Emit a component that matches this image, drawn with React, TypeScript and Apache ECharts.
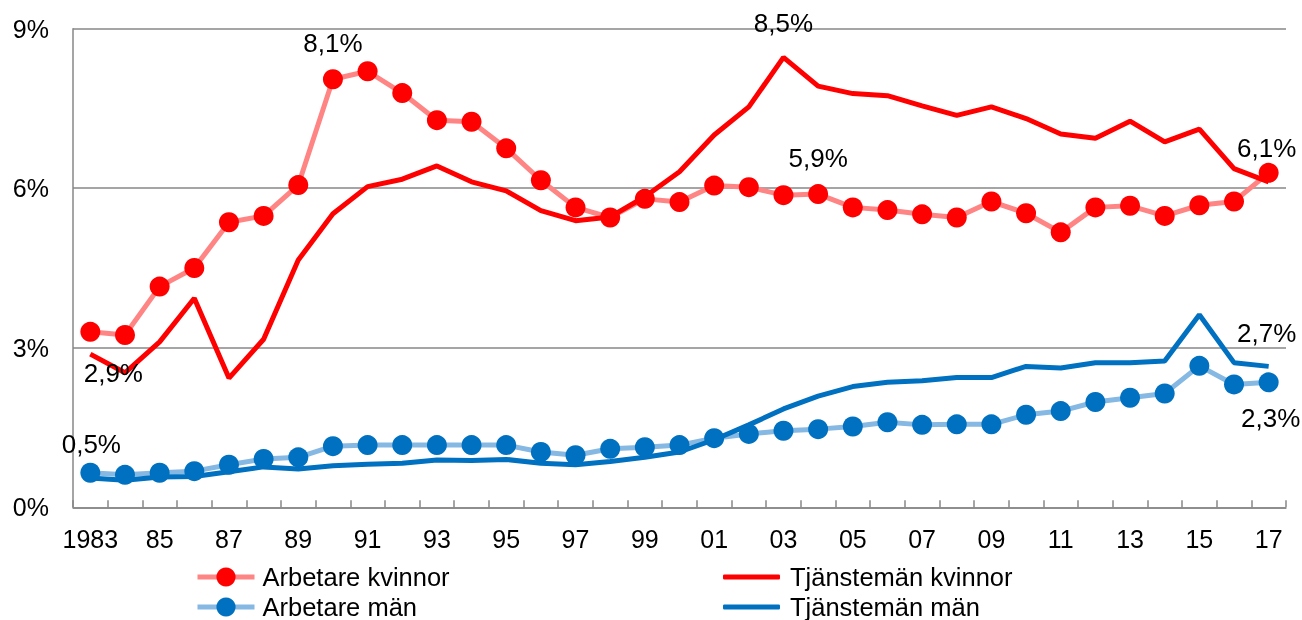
import React, { useEffect, useRef } from "react";
import * as echarts from "echarts";

const categories = ["1983","84","85","86","87","88","89","90","91","92","93","94","95","96","97","98","99","00","01","02","03","04","05","06","07","08","09","10","11","12","13","14","15","16","17"];

const arbetareKvinnor = [3.30,3.24,4.15,4.50,5.36,5.48,6.06,8.05,8.20,7.79,7.28,7.25,6.75,6.15,5.64,5.45,5.80,5.74,6.05,6.02,5.87,5.89,5.64,5.59,5.51,5.45,5.75,5.53,5.17,5.64,5.67,5.48,5.68,5.75,6.29];
const tjanstemanKvinnor = [2.88,2.53,3.11,3.93,2.43,3.16,4.65,5.52,6.03,6.17,6.42,6.12,5.95,5.58,5.39,5.46,5.84,6.31,7.00,7.53,8.46,7.92,7.78,7.74,7.55,7.37,7.53,7.31,7.02,6.94,7.26,6.87,7.11,6.37,6.12];
const arbetareMan = [0.65,0.61,0.65,0.68,0.80,0.91,0.94,1.15,1.17,1.17,1.17,1.17,1.17,1.04,0.98,1.10,1.13,1.17,1.30,1.38,1.44,1.47,1.52,1.60,1.55,1.56,1.56,1.74,1.81,1.98,2.06,2.14,2.66,2.31,2.35];
const tjanstemanMan = [0.55,0.51,0.57,0.58,0.67,0.76,0.72,0.78,0.81,0.83,0.89,0.88,0.90,0.83,0.80,0.86,0.94,1.04,1.27,1.55,1.85,2.09,2.27,2.35,2.38,2.44,2.44,2.65,2.62,2.72,2.72,2.75,3.62,2.72,2.65];

const seriesNames = ["Arbetare kvinnor", "Tjänstemän kvinnor", "Arbetare män", "Tjänstemän män"];
const yTickLabels = ["0%", "3%", "6%", "9%"];

// annotations: [seriesIndex, dataIndex, text, dx, dy]
const annotations: [number, number, string, number, number][] = [
  [0, 7, "8,1%", 0, -36],
  [1, 20, "8,5%", 0, -34],
  [0, 21, "5,9%", 0, -36],
  [1, 34, "6,1%", -2, -34],
  [1, 0, "2,9%", 23, 19],
  [3, 0, "0,5%", 1, -34],
  [3, 34, "2,7%", -2, -33],
  [2, 34, "2,3%", 2, 36],
];

const FONT = "'Liberation Sans', Arial, sans-serif";

function buildData(values: number[], seriesIndex: number) {
  return values.map((v, i) => {
    const a = annotations.find((x) => x[0] === seriesIndex && x[1] === i);
    if (!a) return v;
    return {
      value: v,
      label: {
        show: true,
        position: "inside",
        formatter: a[2],
        offset: [a[3], a[4]],
        color: "#000",
        fontSize: 26,
        fontFamily: FONT,
      },
    };
  });
}

export default function App() {
  const ref = useRef<HTMLDivElement>(null);
  useEffect(() => {
    if (!ref.current) return;
    const chart = echarts.init(ref.current, null, { renderer: "svg" });
    const gray = "#878787";
    chart.setOption({
      animation: false,
      grid: { left: 73, right: 16, top: 28.7, bottom: 112.7, containLabel: false },
      legend: [
        {
          data: [seriesNames[0], seriesNames[2]],
          orient: "vertical",
          left: 195,
          top: 564,
          padding: 0,
          itemWidth: 57,
          itemHeight: 24,
          itemGap: 4,
          lineStyle: { width: 5 },
          textStyle: { fontSize: 25.5, lineHeight: 25, color: "#000", fontFamily: FONT, padding: [0, 0, 0, 3] },
        },
        {
          data: [
            { name: seriesNames[1], icon: "roundRect" },
            { name: seriesNames[3], icon: "roundRect" },
          ],
          orient: "vertical",
          left: 723,
          top: 564,
          padding: 0,
          itemWidth: 57,
          itemHeight: 5,
          itemGap: 4,
          textStyle: { fontSize: 25.5, lineHeight: 25, color: "#000", fontFamily: FONT, padding: [0, 0, 0, 5] },
        },
      ],
      xAxis: {
        type: "category",
        data: categories,
        boundaryGap: true,
        axisLine: { show: true, lineStyle: { color: gray, width: 1.5 } },
        axisTick: { show: true, inside: true, length: 7, interval: 0, lineStyle: { color: gray, width: 1.5 } },
        axisLabel: { interval: 1, fontSize: 25, color: "#000", fontFamily: FONT, margin: 19 },
        splitLine: { show: false },
      },
      yAxis: {
        type: "value",
        min: 0,
        max: 9,
        interval: 3,
        axisLine: { show: true, lineStyle: { color: gray, width: 1.5 } },
        axisTick: { show: false },
        axisLabel: {
          fontSize: 25,
          color: "#000",
          fontFamily: FONT,
          margin: 24,
          formatter: (v: number) => yTickLabels[Math.round(v / 3)] ?? v + "%",
        },
        splitLine: { show: true, lineStyle: { color: gray, width: 1.5 } },
      },
      series: [
        {
          name: seriesNames[0],
          type: "line",
          data: buildData(arbetareKvinnor, 0),
          symbol: "circle",
          symbolSize: 20,
          showAllSymbol: true,
          lineStyle: { color: "#FF8585", width: 5 },
          itemStyle: { color: "#FF0000" },
          emphasis: { disabled: true },
        },
        {
          name: seriesNames[1],
          type: "line",
          data: buildData(tjanstemanKvinnor, 1),
          symbol: "circle",
          symbolSize: 0,
          showAllSymbol: true,
          lineStyle: { color: "#FF0000", width: 5 },
          itemStyle: { color: "#FF0000" },
          emphasis: { disabled: true },
        },
        {
          name: seriesNames[2],
          type: "line",
          data: buildData(arbetareMan, 2),
          symbol: "circle",
          symbolSize: 20,
          showAllSymbol: true,
          lineStyle: { color: "#85B8E2", width: 5 },
          itemStyle: { color: "#0070C0" },
          emphasis: { disabled: true },
        },
        {
          name: seriesNames[3],
          type: "line",
          data: buildData(tjanstemanMan, 3),
          symbol: "circle",
          symbolSize: 0,
          showAllSymbol: true,
          lineStyle: { color: "#0070C0", width: 5 },
          itemStyle: { color: "#0070C0" },
          emphasis: { disabled: true },
        },
      ],
    });
    return () => chart.dispose();
  }, []);
  return <div ref={ref} style={{ position: "fixed", left: 0, top: 0, width: 1302, height: 620 }} />;
}
